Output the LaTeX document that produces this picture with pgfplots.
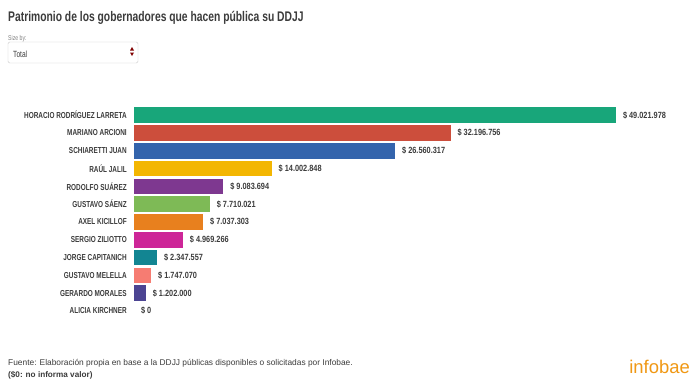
\documentclass[border=0pt]{standalone}
\usepackage{pgfplots}
\pgfplotsset{compat=1.18}
\usepackage{fontspec}
\setmainfont[FakeStretch=0.74]{Liberation Sans}
\newfontfamily\logofont{Liberation Sans}
\newfontfamily\valfont[FakeStretch=0.82]{Liberation Sans}
\definecolor{c1}{RGB}{24,166,122}
\definecolor{c2}{RGB}{204,78,60}
\definecolor{c3}{RGB}{52,100,172}
\definecolor{c4}{RGB}{243,182,2}
\definecolor{c5}{RGB}{126,56,144}
\definecolor{c6}{RGB}{126,186,86}
\definecolor{c7}{RGB}{232,128,30}
\definecolor{c8}{RGB}{205,38,152}
\definecolor{c9}{RGB}{18,133,146}
\definecolor{c10}{RGB}{246,124,114}
\definecolor{c11}{RGB}{76,68,146}
\definecolor{txt}{RGB}{60,60,60}
\definecolor{logo}{RGB}{240,152,20}
\begin{document}
\begin{tikzpicture}[x=1bp,y=1bp]
\path[use as bounding box, fill=white] (0,0) rectangle (696,385);
\node[anchor=base west, inner sep=0, font=\bfseries\fontsize{14}{16}\selectfont, text=txt] at (8,364) {Patrimonio de los gobernadores que hacen pública su DDJJ};
\node[anchor=base west, inner sep=0, font=\fontsize{7}{8}\selectfont, text=gray] at (8,345) {Size by:};
\draw[gray!40, rounded corners=1.5bp] (8,322) rectangle (138,343);
\node[anchor=base west, inner sep=0, font=\fontsize{9}{10}\selectfont, text=txt] at (13,328) {Total};
\fill[red!50!black] (130,334.5) -- (134,334.5) -- (132,338) -- cycle;
\fill[red!50!black] (130,332.5) -- (134,332.5) -- (132,329) -- cycle;
\begin{axis}[at={(134bp,65.1bp)}, anchor=south west, scale only axis,
  width=482bp, height=213.6bp,
  xmin=0, xmax=49021978, ymin=-0.5, ymax=11.5,
  axis line style={draw=none}, tick style={draw=none},
  xtick=\empty, ytick={0,...,11},
  yticklabels={ALICIA KIRCHNER, GERARDO MORALES, GUSTAVO MELELLA, JORGE CAPITANICH, SERGIO ZILIOTTO, AXEL KICILLOF, GUSTAVO SÁENZ, RODOLFO SUÁREZ, RAÚL JALIL, SCHIARETTI JUAN, MARIANO ARCIONI, HORACIO RODRÍGUEZ LARRETA},
  yticklabel style={font=\bfseries\fontsize{8.7}{9}\selectfont, text=txt, xshift=0.5bp},
  xbar, bar width=15.5bp, bar shift=0pt, clip=false,
  nodes near coords, point meta=explicit symbolic,
  nodes near coords style={anchor=west, xshift=3.5bp, font=\valfont\bfseries\fontsize{9}{9}\selectfont, text=txt},
]
\addplot[fill=c1, draw=none] coordinates {(49021978,11) [\$ 49.021.978]};
\addplot[fill=c2, draw=none] coordinates {(32196756,10) [\$ 32.196.756]};
\addplot[fill=c3, draw=none] coordinates {(26560317,9) [\$ 26.560.317]};
\addplot[fill=c4, draw=none] coordinates {(14002848,8) [\$ 14.002.848]};
\addplot[fill=c5, draw=none] coordinates {(9083694,7) [\$ 9.083.694]};
\addplot[fill=c6, draw=none] coordinates {(7710021,6) [\$ 7.710.021]};
\addplot[fill=c7, draw=none] coordinates {(7037303,5) [\$ 7.037.303]};
\addplot[fill=c8, draw=none] coordinates {(4969266,4) [\$ 4.969.266]};
\addplot[fill=c9, draw=none] coordinates {(2347557,3) [\$ 2.347.557]};
\addplot[fill=c10, draw=none] coordinates {(1747070,2) [\$ 1.747.070]};
\addplot[fill=c11, draw=none] coordinates {(1202000,1) [\$ 1.202.000]};
\addplot[fill=none, draw=none] coordinates {(0,0) [\$ 0]};
\end{axis}
\node[anchor=base west, inner sep=0, font=\logofont\fontsize{8.4}{10}\selectfont, text=txt] at (8,20) {Fuente: Elaboración propia en base a la DDJJ públicas disponibles o solicitadas por Infobae.};
\node[anchor=base west, inner sep=0, font=\logofont\bfseries\fontsize{8.2}{10}\selectfont, text=txt] at (8,8) {(\$0: no informa valor)};
\node[anchor=base east, inner sep=0, font=\logofont\fontsize{18.5}{20}\selectfont, text=logo] at (690,12) {infobae};
\end{tikzpicture}
\end{document}
